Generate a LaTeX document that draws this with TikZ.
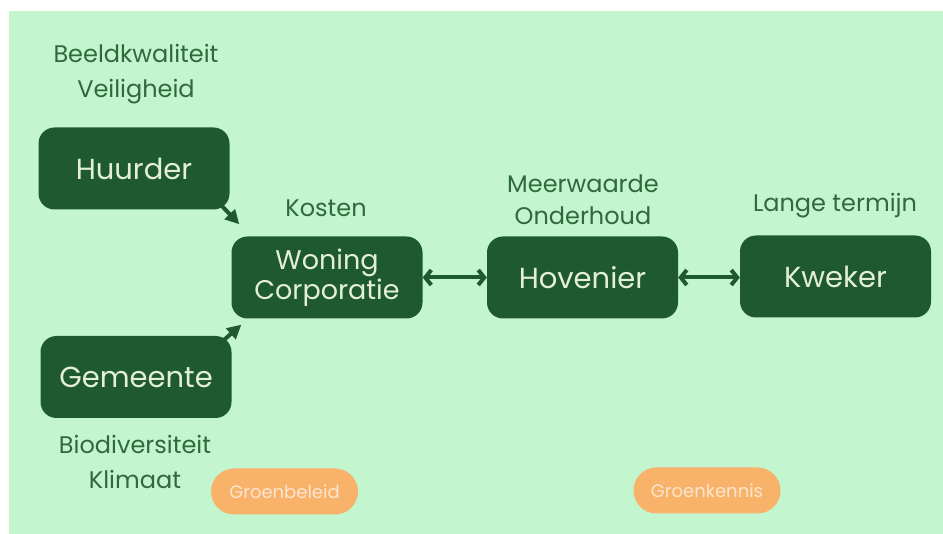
\documentclass[tikz,border=0pt]{standalone}
\usepackage{fontspec}
\setmainfont{Poppins}
\usetikzlibrary{arrows.meta,positioning,calc,shapes.misc}

\definecolor{bggreen}{HTML}{C3F5CE}
\definecolor{darkgreen}{HTML}{1E5A2D}
\definecolor{boxtext}{HTML}{E4F0D4}
\definecolor{notegreen}{HTML}{2F6A3B}
\definecolor{pillorange}{HTML}{F8B26A}
\definecolor{pilltext}{HTML}{FCE6CF}

\begin{document}
\begin{tikzpicture}[
  x=1pt, y=-1pt,
  actor/.style={rectangle, rounded corners=16pt, fill=darkgreen, text=boxtext, align=center, minimum width=191pt, minimum height=82pt, inner sep=0pt, font=\fontsize{29}{30}\selectfont},
  note/.style={text=notegreen, align=center, inner sep=0pt, font=\fontsize{24}{35}\selectfont},
  pill/.style={rounded rectangle, fill=pillorange, text=pilltext, minimum width=147pt, minimum height=46pt, inner sep=0pt, font=\fontsize{18}{20}\selectfont},
  arr/.style={-{Triangle[length=14pt, width=14pt]}, line width=4pt, draw=darkgreen},
  dblarr/.style={{Straight Barb[length=6pt, width=15pt, line width=4pt]}-{Straight Barb[length=6pt, width=15pt, line width=4pt]}, line width=4pt, draw=darkgreen}
]
\useasboundingbox (0,0) rectangle (943,534);
\fill[bggreen] (9,11) rectangle (943,534);

% actors
\node[actor] (huurder) at (134,168.5) {Huurder};
\node[actor] (gemeente) at (136,377) {Gemeente};
\node[actor, font=\fontsize{27}{30}\selectfont] (woning) at (327,277.5) {Woning\\Corporatie};
\node[actor] (hovenier) at (582.5,277.5) {Hovenier};
\node[actor] (kweker) at (835.5,276.5) {Kweker};

% interests
\node[note] (huurderwens) at (136,74) {Beeldkwaliteit\\Veiligheid};
\node[note] (gemeentewens) at (135,462) {Biodiversiteit\\Klimaat};
\node[note] (kosten) at (326,208) {Kosten};
\node[note, font=\fontsize{24}{32}\selectfont] (hovenierwens) at (583,200) {Meerwaarde\\Onderhoud};
\node[note] (termijn) at (835,206) {Lange termijn};

% themes
\node[pill] (beleid) at (284.5,491.5) {Groenbeleid};
\node[pill] (kennis) at (707,490.5) {Groenkennis};

\draw[arr] ($(huurder.south east)+(-9,-5)$) -- ($(woning.north west)+(8,-12)$);
\draw[arr] ($(gemeente.north east)+(-11,7)$) -- ($(woning.south west)+(10,6)$);
\draw[dblarr] (woning.east) -- (hovenier.west);
\draw[dblarr] (hovenier.east) -- (kweker.west |- hovenier.east);
\end{tikzpicture}
\end{document}
